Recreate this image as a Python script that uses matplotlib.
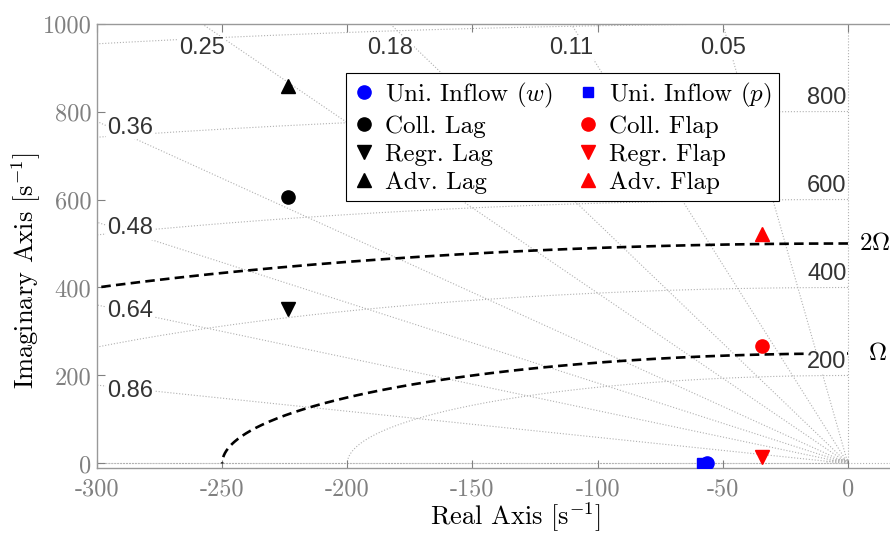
import matplotlib
matplotlib.use('Agg')
import matplotlib.pyplot as plt
import numpy as np

plt.rcParams['mathtext.fontset'] = 'cm'
plt.rcParams['axes.formatter.use_mathtext'] = True

# pole positions
inflow_w_re = [-56.3]
inflow_w_im = [0]
inflow_p_re = [-58.5]
inflow_p_im = [0]
lag_re = [-223.7, -223.7, -223.7]     # coll, regr, adv
lag_im = [606, 352, 859]
flap_re = [-34.4, -34.4, -34.4]       # coll, regr, adv
flap_im = [266, 14, 521]

omega = 250  # rotor speed, rad/s
zetas = [0.05, 0.11, 0.18, 0.25, 0.36, 0.48, 0.64, 0.86]
top_zetas = [0.05, 0.11, 0.18, 0.25]
left_zetas = [0.36, 0.48, 0.64, 0.86]
wn_circles = [1.5, 3, 5, 7, 9, 200, 400, 600, 800, 1000]
wn_labels = [200, 400, 600, 800]
xticks = [-300, -250, -200, -150, -100, -50, 0]
yticks = [0, 200, 400, 600, 800, 1000]

grid_c = '#b0b0b0'
lab_c = '#333333'
tick_c = '#808080'
serif = 'cmr10'

fig = plt.figure(figsize=(8.9, 5.35), dpi=100)
ax = fig.add_axes([0.109, 0.1247, 0.900, 0.8313])
ax.set_xlim(-300, 20)
ax.set_ylim(-11, 1000)

# s-plane grid
for z in zetas + [1.0]:
    th = np.arccos(z)
    r = 2000
    ax.plot([0, -r * np.cos(th)], [0, r * np.sin(th)], ls=':', lw=0.8, color=grid_c, zorder=1)
ax.axhline(0, ls=':', lw=0.8, color=grid_c, zorder=1)
ax.plot([0, 0], [0, 1000], ls=':', lw=0.8, color=grid_c, zorder=1)
t = np.linspace(np.pi / 2, np.pi, 300)
for r in wn_circles:
    ax.plot(r * np.cos(t), r * np.sin(t), ls=':', lw=0.8, color=grid_c, zorder=1)

bb = dict(facecolor='white', edgecolor='none', pad=0.5)
gfs = 17
for z in top_zetas:
    xz = -1000 * z / np.sqrt(1 - z ** 2)
    ax.text(xz, 944, f'{z:.2f}', ha='center', va='center', fontsize=gfs,
            family='Liberation Sans', color=lab_c, bbox=bb, zorder=3)
for z in left_zetas:
    yz = 300 * np.tan(np.arccos(z)) - 14
    ax.text(-296, yz, f'{z:.2f}', ha='left', va='center', fontsize=gfs,
            family='Liberation Sans', color=lab_c, bbox=bb, zorder=3)
for w in wn_labels:
    ax.text(-0.5, w + 30, f'{w}', ha='right', va='center', fontsize=gfs,
            family='Liberation Sans', color=lab_c, bbox=bb, zorder=3)

# constant frequency lines for Omega and 2 Omega
dash = (0, (3.6, 2.0))
ax.plot(omega * np.cos(t), omega * np.sin(t), ls=dash, lw=1.9, color='black', zorder=2)
ax.plot(2 * omega * np.cos(t), 2 * omega * np.sin(t), ls=dash, lw=1.9, color='black', zorder=2)
ax.text(4.5, 2 * omega, r'$2\Omega$', fontsize=18, ha='left', va='center', clip_on=False)
ax.text(8, omega, r'$\Omega$', fontsize=18, ha='left', va='center', clip_on=False)

ms = 9.5
h_w, = ax.plot(inflow_w_re, inflow_w_im, 'o', color='blue', ms=ms, ls='none', zorder=5)
h_p, = ax.plot(inflow_p_re, inflow_p_im, 's', color='blue', ms=6.5, ls='none', zorder=4)
h_cl, = ax.plot(lag_re[0], lag_im[0], 'o', color='black', ms=ms, ls='none', zorder=5)
h_rl, = ax.plot(lag_re[1], lag_im[1], 'v', color='black', ms=ms, ls='none', zorder=5)
h_al, = ax.plot(lag_re[2], lag_im[2], '^', color='black', ms=ms, ls='none', zorder=5)
h_cf, = ax.plot(flap_re[0], flap_im[0], 'o', color='red', ms=ms, ls='none', zorder=5)
h_rf, = ax.plot(flap_re[1], flap_im[1], 'v', color='red', ms=ms, ls='none', zorder=5)
h_af, = ax.plot(flap_re[2], flap_im[2], '^', color='red', ms=ms, ls='none', zorder=5)

handles = [h_w, h_cl, h_rl, h_al, h_p, h_cf, h_rf, h_af]
labels = ['Uni. Inflow ($w$)', 'Coll. Lag', 'Regr. Lag', 'Adv. Lag',
          'Uni. Inflow ($p$)', 'Coll. Flap', 'Regr. Flap', 'Adv. Flap']
leg = ax.legend(handles, labels, ncol=2, loc='upper left', bbox_to_anchor=(0.311, 0.889),
                prop={'family': serif, 'size': 18}, frameon=True, fancybox=False,
                edgecolor='black', framealpha=1, borderpad=0.3, labelspacing=0.22,
                handlelength=0.8, handletextpad=0.45, columnspacing=1.0, borderaxespad=0)
leg.get_frame().set_linewidth(0.8)
leg.set_zorder(6)

ax.set_xticks(xticks, labels=[str(v) for v in xticks])
ax.set_yticks(yticks, labels=[str(v) for v in yticks])
for lab in ax.get_xticklabels() + ax.get_yticklabels():
    lab.set_family(serif)
    lab.set_fontsize(17.5)
ax.tick_params(direction='in', length=6, width=0.8, colors=tick_c, labelcolor=tick_c,
               top=True, right=False, pad=4)
ax.tick_params(axis='x', pad=7)
for s in ax.spines.values():
    s.set_color('#999999')
    s.set_linewidth(1.0)
ax.spines['right'].set_visible(False)

ax.set_xlabel(r'Real Axis [s$^{-1}$]', family=serif, fontsize=19)
ax.set_ylabel(r'Imaginary Axis [s$^{-1}$]', family=serif, fontsize=19)
ax.xaxis.set_label_coords(0.523, -0.073)
ax.yaxis.set_label_coords(-0.068, 0.4436)

fig.savefig('out.png', dpi=100)
